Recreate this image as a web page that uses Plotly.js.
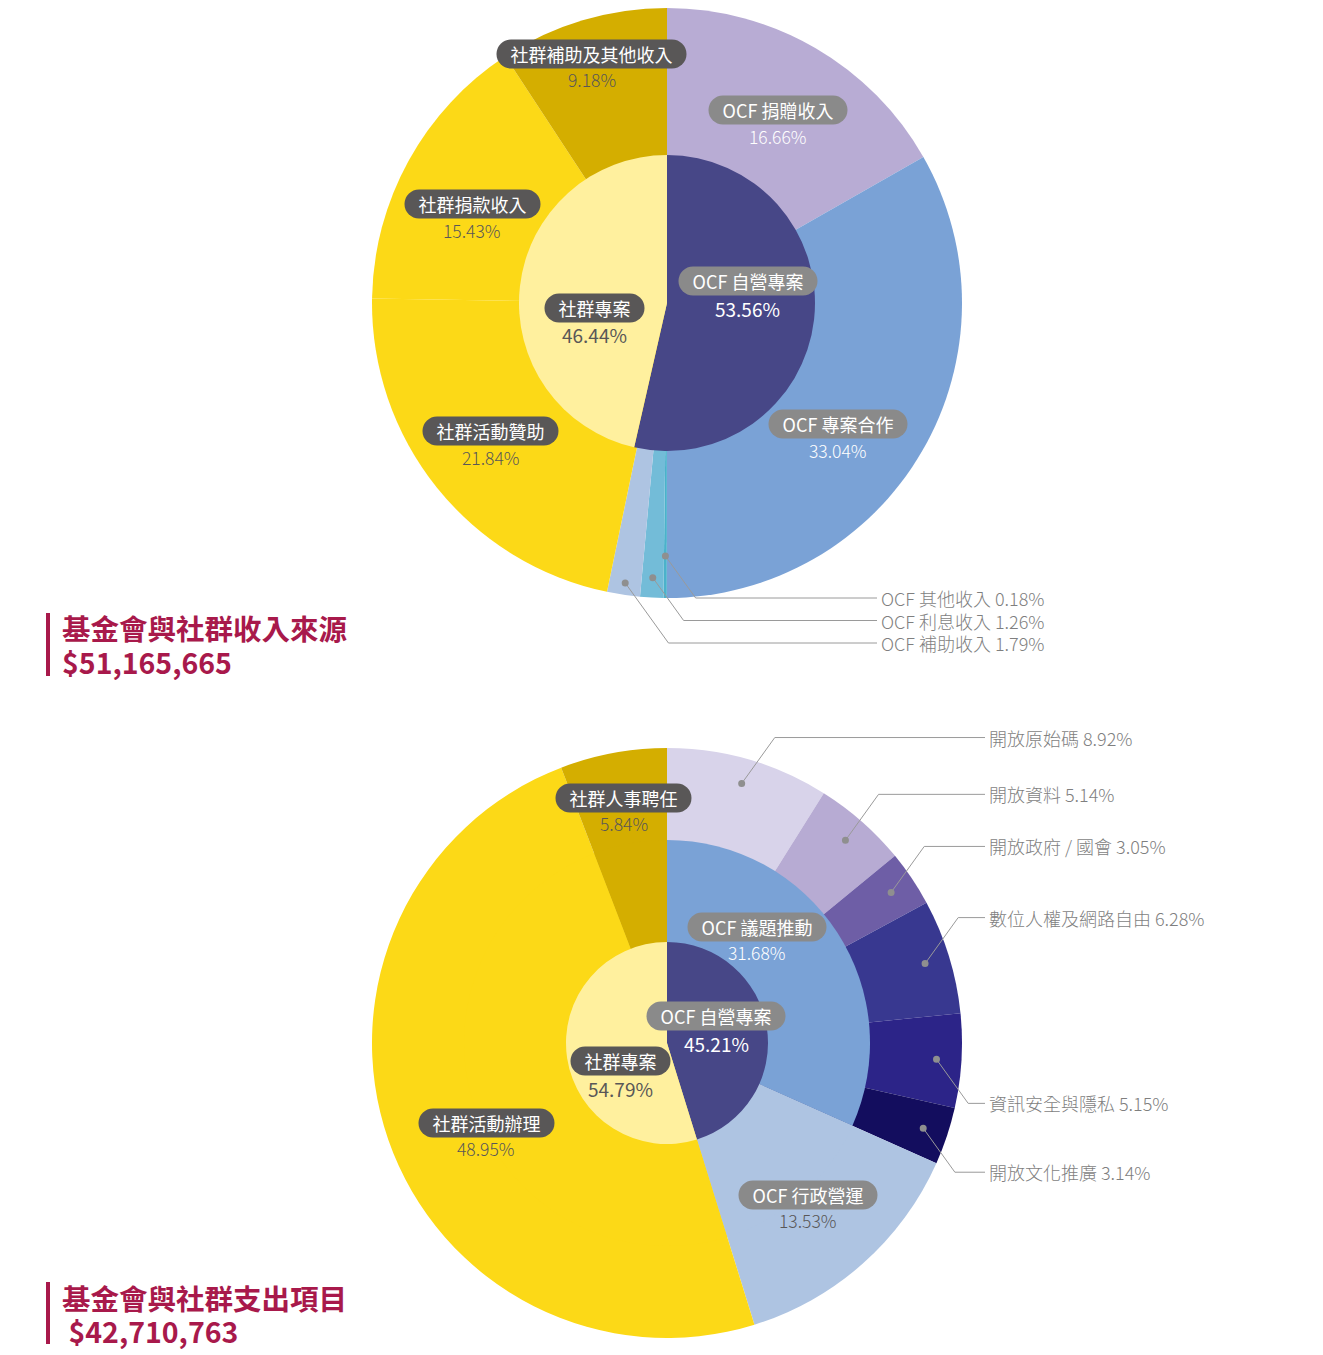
<!DOCTYPE html>
<html>
<head>
<meta charset="utf-8">
<script src="https://cdn.plot.ly/plotly-3.0.1.min.js"></script>
<style>
  html, body { margin: 0; padding: 0; background: #fff; }
  #chart { width: 1323px; height: 1355px; }
</style>
</head>
<body>
<div id="chart"></div>
<script>
// 收入來源
const incomeTitle = '基金會與社群收入來源';
const incomeTotal = '$51,165,665';
const incomeInnerLabels = ['OCF 自營專案', '社群專案'];
const incomeInnerValues = [53.56, 46.44];
const incomeOuterLabels = ['OCF 捐贈收入', 'OCF 專案合作', 'OCF 其他收入', 'OCF 利息收入', 'OCF 補助收入', '社群活動贊助', '社群捐款收入', '社群補助及其他收入'];
const incomeOuterValues = [16.66, 33.04, 0.18, 1.26, 1.79, 21.84, 15.43, 9.18];

// 支出項目
const spendTitle = '基金會與社群支出項目';
const spendTotal = '\u00a0$42,710,763';
const spendInnerLabels = ['OCF 自營專案', '社群專案'];
const spendInnerValues = [45.21, 54.79];
const spendMidLabels = ['OCF 議題推動', 'OCF 行政營運', '社群活動辦理', '社群人事聘任'];
const spendMidValues = [31.68, 13.53, 48.95, 5.84];
const spendOuterLabels = ['開放原始碼', '開放資料', '開放政府 / 國會', '數位人權及網路自由', '資訊安全與隱私', '開放文化推廣', 'OCF 行政營運', '社群活動辦理', '社群人事聘任'];
const spendOuterValues = [8.92, 5.14, 3.05, 6.28, 5.15, 3.14, 13.53, 48.95, 5.84];

const colorOf = {
  'OCF 自營專案': '#474787',
  '社群專案': '#fff09e',
  'OCF 捐贈收入': '#b8acd4',
  'OCF 專案合作': '#7aa2d6',
  'OCF 其他收入': '#4bb2cb',
  'OCF 利息收入': '#73bcd8',
  'OCF 補助收入': '#aec4e2',
  '社群活動贊助': '#fcd917',
  '社群捐款收入': '#fcd917',
  '社群補助及其他收入': '#d4ae00',
  'OCF 議題推動': '#7aa2d6',
  'OCF 行政營運': '#aec4e2',
  '社群活動辦理': '#fcd917',
  '社群人事聘任': '#d4ae00',
  '開放原始碼': '#d8d3ea',
  '開放資料': '#b7abd3',
  '開放政府 / 國會': '#6e5ea6',
  '數位人權及網路自由': '#383890',
  '資訊安全與隱私': '#2c2488',
  '開放文化推廣': '#130d5e',
};

const W = 1323, H = 1355;
const FONT = '"Noto Sans CJK TC", "Noto Sans", sans-serif';
const px = x => x / W;
const py = y => 1 - y / H;

// chart centres and ring radii (px)
const topC = { cx: 667, cy: 303, rIn: 148, rOut: 295 };
const botC = { cx: 667, cy: 1043, rIn: 101, rMid: 203, rOut: 295 };

// rings are stacked full pies, smaller ones drawn on top (no seams)
function pieTrace(labels, values, c, r) {
  return {
    type: 'pie',
    labels: labels,
    values: values,
    sort: false,
    direction: 'clockwise',
    rotation: 0,
    textinfo: 'none',
    hoverinfo: 'label+percent',
    showlegend: false,
    marker: { colors: labels.map(l => colorOf[l]), line: { width: 0 } },
    domain: {
      x: [(c.cx - r) / W, (c.cx + r) / W],
      y: [1 - (c.cy + r) / H, 1 - (c.cy - r) / H],
    },
  };
}

function midAngles(values) {
  const tot = values.reduce((a, b) => a + b, 0);
  let acc = 0;
  return values.map(v => {
    const a = ((acc + v / 2) / tot) * 360;
    acc += v;
    return a;
  });
}

function polar(c, r, deg) {
  const t = (deg * Math.PI) / 180;
  return { x: c.cx + r * Math.sin(t), y: c.cy - r * Math.cos(t) };
}

const data = [
  pieTrace(incomeOuterLabels, incomeOuterValues, topC, topC.rOut),
  pieTrace(incomeInnerLabels, incomeInnerValues, topC, topC.rIn),
  pieTrace(spendOuterLabels, spendOuterValues, botC, botC.rOut),
  pieTrace(spendMidLabels, spendMidValues, botC, botC.rMid),
  pieTrace(spendInnerLabels, spendInnerValues, botC, botC.rIn),
];

const annotations = [];
const shapes = [];

// pill label + percent under it
// spot: r = radius of label, da = nudge from the slice's middle angle, big = larger inner text
function pillLabels(c, labels, values, spots) {
  const mids = midAngles(values);
  labels.forEach((lab, i) => {
    const s = spots[lab];
    if (!s) return;
    const p = polar(c, s.r, mids[i] + (s.da || 0));
    const ocf = lab.startsWith('OCF');
    annotations.push({
      xref: 'paper', yref: 'paper', x: px(p.x), y: py(p.y - (s.big ? 14 : 13)),
      xanchor: 'center', yanchor: 'middle',
      text: '\u2002\u2009' + lab + '\u2009\u2002', showarrow: false,
      bgcolor: ocf ? '#8a8a8a' : '#595757', borderpad: 1,
      font: { family: FONT, size: 18, color: '#ffffff' },
    });
    annotations.push({
      xref: 'paper', yref: 'paper', x: px(p.x), y: py(p.y + 13),
      xanchor: 'center', yanchor: 'middle',
      text: values[i].toFixed(2) + '%', showarrow: false,
      font: { family: FONT, size: s.big ? 19 : 17.5, weight: s.big ? 400 : 300, color: s.light ? '#ffffff' : '#595757' },
    });
  });
}

pillLabels(topC, incomeOuterLabels, incomeOuterValues, {
  'OCF 捐贈收入': { r: 211, da: 1.5, light: true },
  'OCF 專案合作': { r: 217, da: 8, light: true },
  '社群活動贊助': { r: 226 },
  '社群捐款收入': { r: 213, da: -5 },
  '社群補助及其他收入': { r: 248, da: -1 },
});
pillLabels(topC, incomeInnerLabels, incomeInnerValues, {
  'OCF 自營專案': { r: 81, da: -12, light: true, big: true },
  '社群專案': { r: 75, da: -21, big: true },
});
pillLabels(botC, spendMidLabels, spendMidValues, {
  'OCF 議題推動': { r: 137, da: -16, light: true },
  'OCF 行政營運': { r: 217, da: 1 },
  '社群活動辦理': { r: 203, da: -8 },
  '社群人事聘任': { r: 236 },
});
pillLabels(botC, spendInnerLabels, spendInnerValues, {
  'OCF 自營專案': { r: 51, da: -6, light: true, big: true },
  '社群專案': { r: 57, da: -26, big: true },
});

// leader lines with dot, elbow and text
function leader(c, dotR, deg, textY, lineEnd, text) {
  const d = polar(c, dotR, deg);
  const ex = d.x + Math.abs(textY - d.y) * 0.72;
  shapes.push({
    type: 'path', xref: 'paper', yref: 'paper',
    path: `M ${px(d.x)},${py(d.y)} L ${px(ex)},${py(textY)} L ${px(lineEnd)},${py(textY)}`,
    line: { color: '#9a9a9a', width: 1 },
  });
  shapes.push({
    type: 'circle', xref: 'paper', yref: 'paper',
    x0: px(d.x - 3.5), x1: px(d.x + 3.5), y0: py(d.y + 3.5), y1: py(d.y - 3.5),
    fillcolor: '#8f8f8f', line: { width: 0 },
  });
  annotations.push({
    xref: 'paper', yref: 'paper', x: px(lineEnd + 2), y: py(textY),
    xanchor: 'left', yanchor: 'middle', showarrow: false, text: text,
    font: { family: FONT, size: 18, weight: 300, color: '#7f7f7f' },
  });
}

{
  const mids = midAngles(incomeOuterValues);
  const small = ['OCF 其他收入', 'OCF 利息收入', 'OCF 補助收入'];
  const dotR = [253, 275, 283];
  small.forEach((lab, k) => {
    const i = incomeOuterLabels.indexOf(lab);
    leader(topC, dotR[k], mids[i], 598 + k * 22.5, 877, lab + ' ' + incomeOuterValues[i].toFixed(2) + '%');
  });
}
{
  const mids = midAngles(spendOuterValues);
  for (let i = 0; i < 6; i++) {
    const d = polar(botC, 270, mids[i]);
    const ty = d.y < botC.cy ? d.y - 46 : d.y + 44;
    leader(botC, 270, mids[i], ty, 985, spendOuterLabels[i] + ' ' + spendOuterValues[i].toFixed(2) + '%');
  }
}

// titles with red bar
function title(y1, y2, barTop, barBot, line1, line2) {
  shapes.push({
    type: 'rect', xref: 'paper', yref: 'paper',
    x0: px(46), x1: px(50), y0: py(barBot), y1: py(barTop),
    fillcolor: '#a8194b', line: { width: 0 },
  });
  [[line1, y1], [line2, y2]].forEach(([t, y]) => {
    annotations.push({
      xref: 'paper', yref: 'paper', x: px(60), y: py(y),
      xanchor: 'left', yanchor: 'middle', showarrow: false,
      text: '<b>' + t + '</b>',
      font: { family: FONT, size: 28.5, color: '#a8194b' },
    });
  });
}
title(628, 661, 613, 676, incomeTitle, incomeTotal);
title(1297, 1330, 1282, 1344, spendTitle, spendTotal);

const layout = {
  width: W,
  height: H,
  margin: { t: 0, r: 0, b: 0, l: 0 },
  paper_bgcolor: '#ffffff',
  showlegend: false,
  annotations: annotations,
  shapes: shapes,
};

Plotly.newPlot('chart', data, layout, { staticPlot: true }).then(gd => {
  // round the label pills
  gd.querySelectorAll('.annotation rect.bg').forEach(r => {
    const h = parseFloat(r.getAttribute('height'));
    if (h) {
      r.setAttribute('rx', h / 2);
      r.setAttribute('ry', h / 2);
    }
  });
});
</script>
</body>
</html>
